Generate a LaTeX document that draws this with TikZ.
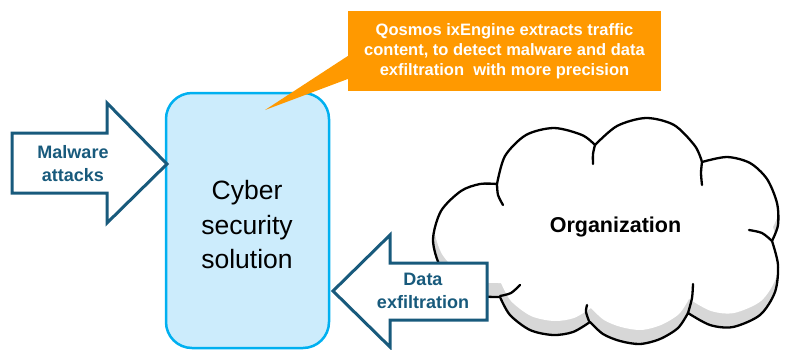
\documentclass[tikz,border=0pt]{standalone}
\usepackage{fontspec}
\setmainfont{Liberation Sans}
\usepackage{tikz}
\usetikzlibrary{positioning}
\definecolor{arrowblue}{RGB}{24,90,124}
\definecolor{boxblue}{RGB}{0,176,240}
\definecolor{boxfill}{RGB}{204,236,252}
\definecolor{calloutorange}{RGB}{255,153,0}
\definecolor{shadowgray}{RGB}{215,215,215}

% outline of the cloud, one smooth piece per puff
\newcommand{\cloudshape}{plot[smooth] coordinates {(497,184) (505,156) (526,135) (554,128) (582,135) (595,145)}
	-- plot[smooth] coordinates {(595,145) (617,126) (646,118) (674,125) (695,146) (702,162)}
	-- plot[smooth] coordinates {(702,162) (727,157) (750,163) (767,179) (777,203) (778,225) (772,241)}
	-- plot[smooth] coordinates {(772,241) (778,265) (775,292) (760,315) (733,327) (710,325) (688,313)}
	-- plot[smooth] coordinates {(688,313) (678,328) (660,339) (640,344) (620,341) (603,334) (590,322)}
	-- plot[smooth] coordinates {(590,322) (573,332) (553,335) (530,330) (510,315) (500,297)}
	-- plot[smooth] coordinates {(500,297) (480,296) (461,289) (441,268) (433,240) (441,211) (461,191) (480,184) (497,184)}
	-- cycle}

\begin{document}
\begin{tikzpicture}[x=1pt,y=-1pt,
	blockarrow/.style={draw=arrowblue,line width=3pt,fill=white,line join=miter},
	arrowtext/.style={font=\bfseries\fontsize{18}{23}\selectfont,text=arrowblue,align=center,inner sep=0pt},
	secbox/.style={draw=boxblue,line width=2.5pt,fill=boxfill,rounded corners=26pt,minimum width=163pt,minimum height=255pt,inner sep=0pt},
	callout/.style={fill=calloutorange,text=white,font=\bfseries\fontsize{16.5}{20}\selectfont,align=center,minimum width=313pt,minimum height=80pt,inner sep=0pt},
	cloudline/.style={line width=2.3pt,line join=round,line cap=round}]
	\useasboundingbox (0,0) rectangle (785,349);
	
	% cloud with its shadow
	\fill[shadowgray] \cloudshape;
	\begin{scope}
		\clip \cloudshape;
		\fill[white,yshift=14pt,xshift=1pt] \cloudshape;
	\end{scope}
	\draw[cloudline] \cloudshape;
	\draw[cloudline] plot[smooth] coordinates {(497,184) (498,195) (503,205)};
	\draw[cloudline] plot[smooth] coordinates {(595,145) (593,154) (593,164)};
	\draw[cloudline] plot[smooth] coordinates {(702,162) (701,173) (702,185)};
	\draw[cloudline] plot[smooth] coordinates {(772,241) (762,233) (749,230)};
	\draw[cloudline] plot[smooth] coordinates {(688,313) (692,298) (693,284)};
	\draw[cloudline] plot[smooth] coordinates {(589,321) (586,312) (587,305)};
	\draw[cloudline] plot[smooth] coordinates {(500,296) (511,293) (520,285)};
	\node[font=\bfseries\fontsize{21.5}{25}\selectfont] (org) at (615.5,227) {Organization};
	
	% security box
	\node[secbox] (sec) at (247.5,220.5) {};
	\node[font=\fontsize{26.5}{34.5}\selectfont,align=center] (sectext) at (247,225) {Cyber\\security\\solution};
	
	% incoming and outgoing block arrows
	\draw[blockarrow] (12,133) -- (107,133) -- (107,103) -- (167,164) -- (107,223) -- (107,193) -- (12,193) -- cycle;
	\node[arrowtext] (malware) at (73,164) {Malware\\attacks};
	\draw[blockarrow] (487,263) -- (390,263) -- (390,235) -- (333,291) -- (390,347) -- (390,320) -- (487,320) -- cycle;
	\node[arrowtext] (exfil) at (423,291) {Data\\exfiltration};
	
	% callout
	\node[callout] (note) at (504.5,51) {Qosmos ixEngine extracts traffic\\content, to detect malware and data\\exfiltration\ \ with more precision};
	\coordinate (tip) at (265,110);
	\fill[calloutorange] ([yshift=-5pt]note.west) -- (tip) -- ([yshift=-28pt]note.west) -- cycle;
\end{tikzpicture}
\end{document}
